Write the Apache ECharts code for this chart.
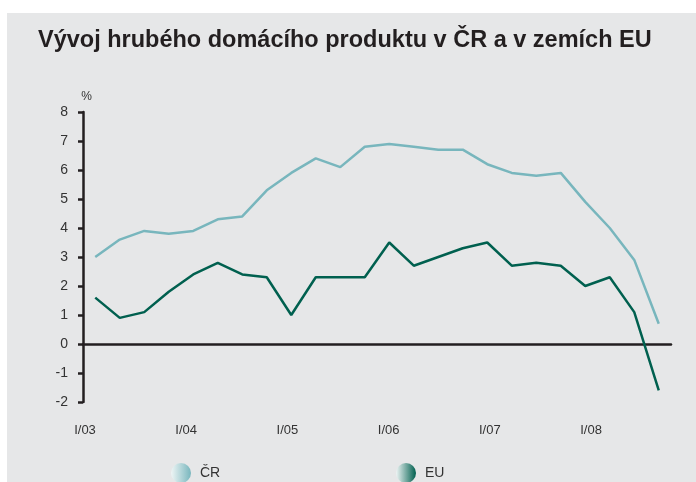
<!DOCTYPE html>
<html>
<head>
<meta charset="utf-8">
<script src="https://cdn.jsdelivr.net/npm/echarts@6/dist/echarts.min.js"></script>
<style>
  html, body { margin: 0; padding: 0; background: #ffffff; }
  #bg { position: absolute; left: 7px; top: 13px; width: 689px; height: 469px; background: #e6e7e8; }
  #main { position: absolute; left: 0; top: 0; width: 696px; height: 482px; }
</style>
</head>
<body>
<div id="bg"></div>
<div id="main"></div>
<script>
  // čtvrtletí I/03 .. IV/08
  var quarters = [
    'I/03', 'II/03', 'III/03', 'IV/03',
    'I/04', 'II/04', 'III/04', 'IV/04',
    'I/05', 'II/05', 'III/05', 'IV/05',
    'I/06', 'II/06', 'III/06', 'IV/06',
    'I/07', 'II/07', 'III/07', 'IV/07',
    'I/08', 'II/08', 'III/08', 'IV/08'
  ];
  var yearLabels = ['I/03', 'I/04', 'I/05', 'I/06', 'I/07', 'I/08'];
  var crData = [3.0, 3.6, 3.9, 3.8, 3.9, 4.3, 4.4, 5.3, 5.9, 6.4, 6.1, 6.8,
                6.9, 6.8, 6.7, 6.7, 6.2, 5.9, 5.8, 5.9, 4.9, 4.0, 2.9, 0.7];
  var euData = [1.6, 0.9, 1.1, 1.8, 2.4, 2.8, 2.4, 2.3, 1.0, 2.3, 2.3, 2.3,
                3.5, 2.7, 3.0, 3.3, 3.5, 2.7, 2.8, 2.7, 2.0, 2.3, 1.1, -1.6];

  var crColor = '#78b6bd';
  var euColor = '#00604f';
  var font = '"Liberation Sans", Arial, sans-serif';

  function legendFill(c) {
    return new echarts.graphic.LinearGradient(0, 0, 1, 0, [
      { offset: 0, color: '#eef5f5' },
      { offset: 1, color: c }
    ]);
  }

  var legendBase = {
    orient: 'horizontal',
    top: 458,
    icon: 'circle',
    itemWidth: 20,
    itemHeight: 20,
    itemGap: 0,
    selectedMode: false,
    textStyle: { color: '#333333', fontSize: 14, fontFamily: font, padding: [4, 0, 0, 4] }
  };

  var option = {
    animation: false,
    backgroundColor: 'transparent',
    title: {
      text: 'Vývoj hrubého domácího produktu v ČR a v zemích EU',
      left: 38,
      top: 29,
      padding: 0,
      textStyle: { color: '#231f20', fontSize: 23.5, fontWeight: 'bold', fontFamily: font }
    },
    legend: [
      Object.assign({}, legendBase, {
        left: 166,
        data: [{ name: 'ČR', itemStyle: { color: legendFill(crColor) } }]
      }),
      Object.assign({}, legendBase, {
        left: 391,
        data: [{ name: 'EU', itemStyle: { color: legendFill(euColor) } }]
      })
    ],
    grid: {
      left: 83,
      right: 25,
      top: 112,
      bottom: 80,
      containLabel: false,
      outerBoundsMode: 'none'
    },
    xAxis: [{
      type: 'category',
      position: 'top',
      data: quarters,
      boundaryGap: true,
      axisLine: { onZero: true, lineStyle: { color: '#231f20', width: 2.5 } },
      axisTick: { show: false },
      axisLabel: { show: false },
      splitLine: { show: false }
    }, {
      type: 'value',
      position: 'bottom',
      min: 0,
      max: 5.81,
      interval: 1,
      axisLine: { show: false, onZero: false },
      axisTick: { show: false },
      splitLine: { show: false },
      axisLabel: {
        margin: 22,
        color: '#333333',
        fontSize: 13,
        fontFamily: font,
        padding: [0, 0, 0, 4],
        formatter: function (v) {
          return yearLabels[Math.round(v)] || '';
        }
      }
    }],
    yAxis: {
      type: 'value',
      min: -2,
      max: 8,
      interval: 1,
      name: '%',
      nameLocation: 'end',
      nameGap: 9,
      nameTextStyle: { color: '#333333', fontSize: 12, fontFamily: font, padding: [0, 0, 0, 7] },
      axisLine: { show: true, onZero: false, lineStyle: { color: '#231f20', width: 2.5 } },
      axisTick: { show: true, inside: false, length: 5, lineStyle: { color: '#231f20', width: 2.5 } },
      splitLine: { show: false },
      axisLabel: { margin: 15, color: '#333333', fontSize: 14, fontFamily: font }
    },
    series: [{
      name: 'ČR',
      type: 'line',
      xAxisIndex: 0,
      data: crData,
      symbol: 'none',
      lineStyle: { color: crColor, width: 2.5 },
      itemStyle: { color: crColor }
    }, {
      name: 'EU',
      type: 'line',
      xAxisIndex: 0,
      data: euData,
      symbol: 'none',
      lineStyle: { color: euColor, width: 2.5 },
      itemStyle: { color: euColor }
    }]
  };

  var myChart = echarts.init(document.getElementById('main'));
  myChart.setOption(option, true);
</script>
</body>
</html>
